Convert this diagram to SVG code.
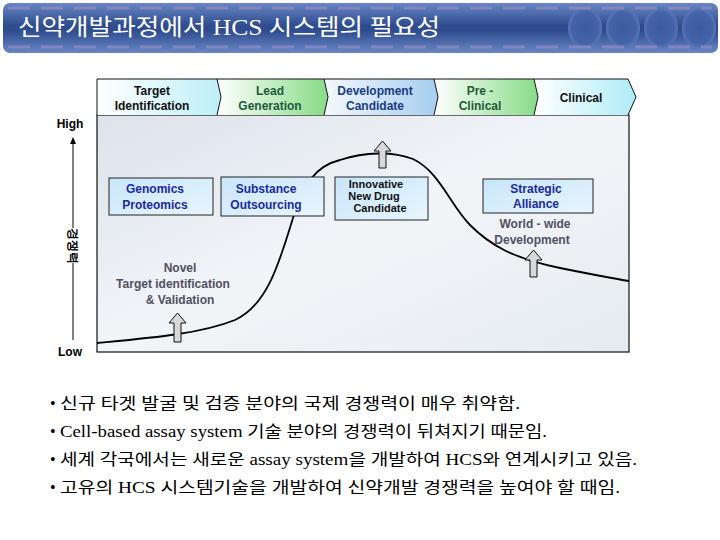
<svg xmlns="http://www.w3.org/2000/svg" width="720" height="540" viewBox="0 0 720 540">
<defs>
<linearGradient id="title" x1="0" y1="0" x2="0" y2="1">
<stop offset="0" stop-color="#6a86c4"/><stop offset="0.45" stop-color="#2e4c8e"/><stop offset="0.55" stop-color="#2e4c8e"/><stop offset="1" stop-color="#6a86c4"/>
</linearGradient>
<radialGradient id="circ" cx="0.5" cy="0.5" r="0.5">
<stop offset="0" stop-color="#3a5aa0"/><stop offset="0.8" stop-color="#4563a8"/><stop offset="1" stop-color="#5a78b8"/>
</radialGradient>
<linearGradient id="bg" x1="0" y1="0" x2="1" y2="1">
<stop offset="0" stop-color="#dde3ea"/><stop offset="0.5" stop-color="#f2f5f8"/><stop offset="1" stop-color="#e6ebef"/>
</linearGradient>
<linearGradient id="g1" x1="0" y1="0" x2="1" y2="0"><stop offset="0" stop-color="#ffffff"/><stop offset="1" stop-color="#bdeef8"/></linearGradient>
<linearGradient id="g2" x1="0" y1="0" x2="1" y2="0"><stop offset="0" stop-color="#ffffff"/><stop offset="1" stop-color="#86dc86"/></linearGradient>
<linearGradient id="g3" x1="0" y1="0" x2="1" y2="0"><stop offset="0" stop-color="#f4f9fd"/><stop offset="1" stop-color="#a6cdf0"/></linearGradient>
<linearGradient id="g5" x1="0" y1="0" x2="1" y2="0"><stop offset="0" stop-color="#ffffff"/><stop offset="1" stop-color="#aeecf8"/></linearGradient>
<linearGradient id="box" x1="0" y1="0" x2="1" y2="1"><stop offset="0" stop-color="#c8e6fa"/><stop offset="1" stop-color="#e8f5fd"/></linearGradient>
</defs>
<style>
.hd{font-family:"Liberation Sans",Arial,sans-serif;font-weight:bold;font-size:12px;text-anchor:middle}
.bx{fill:url(#box);stroke:#222;stroke-width:1}
.bt{font-family:"Liberation Sans",Arial,sans-serif;font-weight:bold;font-size:12px;text-anchor:middle;fill:#1a2aa0}
.gt{font-family:"Liberation Sans",Arial,sans-serif;font-weight:bold;font-size:12px;text-anchor:middle;fill:#505062}
.ax{font-family:"Liberation Sans",Arial,sans-serif;font-weight:bold;font-size:12px;text-anchor:middle;fill:#000}
.ar{fill:#d8d8d8;stroke:#111;stroke-width:1}
.bl{font-family:"Liberation Serif","Noto Sans CJK KR",serif;font-size:16px;fill:#000}
.sep{fill:none;stroke:#111;stroke-width:1}
.it{font-family:"Liberation Sans",Arial,sans-serif;font-weight:bold;font-size:11px;text-anchor:middle;fill:#111}
</style>

<g id="title-bar">
<rect x="3" y="3" width="715" height="50" rx="7" fill="url(#title)"/>
<ellipse cx="585" cy="28" rx="17" ry="20" fill="url(#circ)"/>
<ellipse cx="623" cy="28" rx="17" ry="20" fill="url(#circ)"/>
<ellipse cx="661" cy="28" rx="17" ry="20" fill="url(#circ)"/>
<ellipse cx="699" cy="28" rx="17" ry="20" fill="url(#circ)"/>
<line x1="8" y1="8" x2="712" y2="8" stroke="#8a8cc4" stroke-width="3" stroke-dasharray="22,11" opacity="0.8"/>
<line x1="8" y1="47" x2="712" y2="47" stroke="#8a8cc4" stroke-width="3" stroke-dasharray="22,11" opacity="0.8"/>
<text x="18" y="35" font-family="'Liberation Serif','Noto Sans CJK KR',serif" font-size="23" fill="#ffffff" textLength="422" lengthAdjust="spacingAndGlyphs">신약개발과정에서 HCS 시스템의 필요성</text>
</g>

<g id="chart-area">
<rect x="97" y="115" width="532" height="237" fill="url(#bg)" stroke="#111" stroke-width="1.2"/>
</g>

<g id="phase-header">
<polygon points="97,79 217,79 221,97 217,115 97,115" fill="url(#g1)" stroke="none"/>
<polygon points="217,79 324,79 328,97 324,115 217,115 221,97" fill="url(#g2)"/>
<polygon points="324,79 434,79 438,97 434,115 324,115 328,97" fill="url(#g3)"/>
<polygon points="434,79 534,79 538,97 534,115 434,115 438,97" fill="url(#g2)"/>
<polygon points="534,79 628,79 636,97 628,115 534,115 538,97" fill="url(#g5)"/>
<path class="sep" d="M97,115 V79 H628 L636,97 L628,115 M217,79 L221,97 L217,115 M324,79 L328,97 L324,115 M434,79 L438,97 L434,115 M534,79 L538,97 L534,115"/>
<text class="hd" x="152" y="95" fill="#111">Target</text>
<text class="hd" x="152" y="110" fill="#111">Identification</text>
<text class="hd" x="270" y="95" fill="#1f5a3c">Lead</text>
<text class="hd" x="270" y="110" fill="#1f5a3c">Generation</text>
<text class="hd" x="375" y="95" fill="#1a3c80">Development</text>
<text class="hd" x="375" y="110" fill="#1a3c80">Candidate</text>
<text class="hd" x="480" y="95" fill="#1f5a3c">Pre -</text>
<text class="hd" x="480" y="110" fill="#1f5a3c">Clinical</text>
<text class="hd" x="581" y="102" fill="#111">Clinical</text>
</g>

<g id="axis">
<text class="ax" x="70" y="128">High</text>
<line x1="73" y1="143" x2="73" y2="228" stroke="#000" stroke-width="1"/>
<polygon points="73,137 70,144 76,144" fill="#000"/>
<text class="ax" font-size="10" transform="translate(73,246) rotate(90)" font-family="'Noto Sans CJK KR',sans-serif" dy="4">경쟁력</text>
<line x1="73" y1="263" x2="73" y2="340" stroke="#000" stroke-width="1"/>
<text class="ax" x="70" y="356">Low</text>
</g>

<g id="connectors">
<path d="M97,343 C150,338 200,334 235,320 C268,305 280,260 293,218 C303,185 315,166 340,160 C365,152 392,151 413,159 C440,172 450,205 470,225 C490,245 512,258 560,268 C590,274 610,278 629,281" fill="none" stroke="#000" stroke-width="1.8"/>
</g>

<g id="arrow-1"><polygon class="ar" points="174,342 174,323 169,323 177.5,313 186,323 181,323 181,342"/></g>
<g id="arrow-2"><polygon class="ar" points="379,168 379,151 374,151 382.5,141 391,151 386,151 386,168"/></g>
<g id="arrow-3"><polygon class="ar" points="530,277 530,260 525,260 533.5,250 542,260 537,260 537,277"/></g>

<g id="genomics">
<rect class="bx" x="109" y="178" width="104" height="37"/>
<text class="bt" x="155" y="193">Genomics</text>
<text class="bt" x="155" y="209">Proteomics</text>
</g>
<g id="substance">
<rect class="bx" x="221" y="177" width="103" height="39"/>
<text class="bt" x="266" y="193">Substance</text>
<text class="bt" x="266" y="209">Outsourcing</text>
</g>
<g id="innovative">
<rect class="bx" x="335" y="177" width="93" height="43"/>
<text class="it" x="376" y="188">Innovative</text>
<text class="it" x="374" y="200">New Drug</text>
<text class="it" x="380" y="212">Candidate</text>
</g>
<g id="strategic">
<rect class="bx" x="483" y="179" width="110" height="34"/>
<text class="bt" x="536" y="193">Strategic</text>
<text class="bt" x="536" y="208">Alliance</text>
</g>
<g id="worldwide">
<text class="gt" x="535" y="228">World  - wide</text>
<text class="gt" x="532" y="244">Development</text>
</g>
<g id="novel">
<text class="gt" x="180" y="272">Novel</text>
<text class="gt" x="173" y="288">Target identification</text>
<text class="gt" x="180" y="304">&amp; Validation</text>
</g>

<g id="bullets">
<text class="bl" x="50" y="409">•</text>
<text class="bl" x="60" y="409" textLength="460" lengthAdjust="spacingAndGlyphs">신규 타겟 발굴 및 검증 분야의 국제 경쟁력이 매우 취약함.</text>
<text class="bl" x="50" y="437">•</text>
<text class="bl" x="60" y="437" textLength="487" lengthAdjust="spacingAndGlyphs">Cell-based assay system 기술 분야의 경쟁력이 뒤쳐지기 때문임.</text>
<text class="bl" x="50" y="465">•</text>
<text class="bl" x="60" y="465" textLength="577" lengthAdjust="spacingAndGlyphs">세계 각국에서는 새로운 assay system을 개발하여 HCS와 연계시키고 있음.</text>
<text class="bl" x="50" y="493">•</text>
<text class="bl" x="60" y="493" textLength="560" lengthAdjust="spacingAndGlyphs">고유의 HCS 시스템기술을 개발하여 신약개발 경쟁력을 높여야 할 때임.</text>
</g>
</svg>
